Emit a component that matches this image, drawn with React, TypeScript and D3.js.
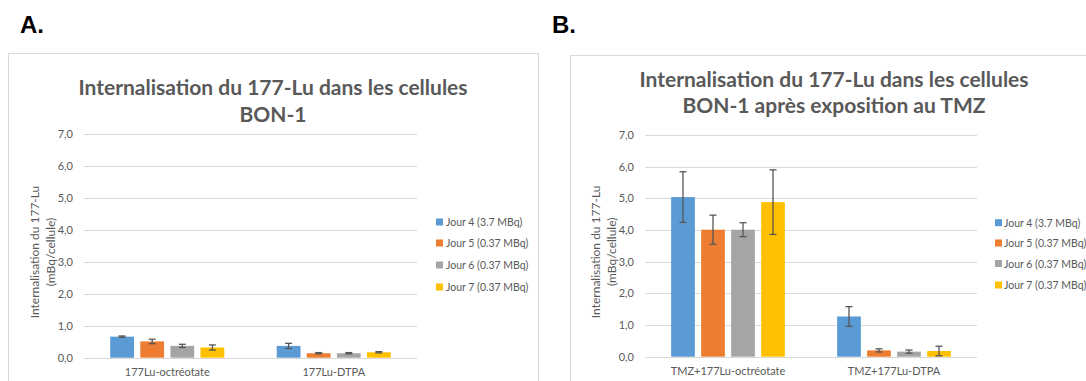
import React from "react";
import * as d3 from "d3";

const seriesNames = ["Jour 4 (3.7 MBq)", "Jour 5 (0.37 MBq)", "Jour 6 (0.37 MBq)", "Jour 7 (0.37 MBq)"];
const seriesColors = ["#5B9BD5", "#ED7D31", "#A5A5A5", "#FFC000"];
const yTicks = [0, 1, 2, 3, 4, 5, 6, 7];

const categoriesA = ["177Lu-octréotate", "177Lu-DTPA"];
const valuesA = [
  [0.66, 0.37],
  [0.51, 0.14],
  [0.37, 0.14],
  [0.32, 0.17],
];
const errorsA = [
  [0.02, 0.08],
  [0.07, 0.02],
  [0.05, 0.02],
  [0.08, 0.02],
];

const categoriesB = ["TMZ+177Lu-octréotate", "TMZ+177Lu-DTPA"];
const valuesB = [
  [5.04, 1.27],
  [4.01, 0.2],
  [4.01, 0.16],
  [4.88, 0.18],
];
const errorsB = [
  [0.8, 0.31],
  [0.46, 0.05],
  [0.22, 0.05],
  [1.02, 0.15],
];

const titleA = ["Internalisation du 177-Lu dans les cellules", "BON-1"];
const titleB = ["Internalisation du 177-Lu dans les cellules", "BON-1 après exposition au TMZ"];
const yLabel = ["Internalisation du 177-Lu", "(mBq/cellule)"];

const FONT = "Lato, 'Open Sans', sans-serif";
const TXT = "#595959";

type PanelProps = {
  letter: string;
  letterX: number;
  box: { x: number; y: number };
  plot: { x0: number; x1: number; yTop: number; yZero: number };
  titleLines: string[];
  titleCx: number;
  titleY: number[];
  ylabX: number[];
  legend: { sq: number; tx: number; rows: number[] };
  categories: string[];
  values: number[][];
  errors: number[][];
};

function Panel(p: PanelProps) {
  const y = d3.scaleLinear().domain([0, 7]).range([p.plot.yZero, p.plot.yTop]);
  const xCat = d3.scaleBand<string>().domain(p.categories).range([p.plot.x0, p.plot.x1]).padding(0);
  const groupW = xCat.bandwidth() * 0.685;
  const xSer = d3
    .scaleBand<number>()
    .domain(d3.range(seriesNames.length))
    .range([0, groupW])
    .paddingInner(0.21)
    .paddingOuter(0);
  const fmt = (v: number) => d3.format(".1f")(v).replace(".", ",");
  const ylabCy = (p.plot.yTop + p.plot.yZero) / 2 + 6;
  return (
    <g>
      <text x={p.letterX} y={33} fontFamily="'Liberation Sans', Arial, sans-serif" fontWeight="bold" fontSize={24} fill="#000">
        {p.letter}
      </text>
      <rect x={p.box.x + 0.5} y={p.box.y + 0.5} width={530} height={400} fill="#fff" stroke="#d9d9d9" />
      {p.titleLines.map((t, i) => (
        <text key={i} x={p.titleCx} y={p.titleY[i]} textAnchor="middle" fontFamily={FONT} fontWeight="bold" fontSize={21} fill={TXT}>
          {t}
        </text>
      ))}
      {yTicks.map((t) => (
        <g key={t}>
          <line x1={p.plot.x0} x2={p.plot.x1} y1={Math.round(y(t)) + 0.5} y2={Math.round(y(t)) + 0.5} stroke="#d9d9d9" strokeWidth={1} />
          <text x={p.plot.x0 - 11} y={y(t) + 4} textAnchor="end" fontFamily={FONT} fontSize={11} fill={TXT}>
            {fmt(t)}
          </text>
        </g>
      ))}
      {p.categories.map((c, ci) => {
        const gx = (xCat(c) as number) + (xCat.bandwidth() - groupW) / 2;
        return (
          <g key={c}>
            {seriesNames.map((s, si) => {
              const v = p.values[si][ci];
              const e = p.errors[si][ci];
              const bx = gx + (xSer(si) as number);
              const bw = xSer.bandwidth();
              const cx = bx + bw / 2;
              return (
                <g key={s}>
                  <rect x={bx} y={y(v)} width={bw} height={y(0) - y(v)} fill={seriesColors[si]} />
                  <line x1={cx} x2={cx} y1={y(v + e)} y2={y(v - e)} stroke="#555" strokeWidth={1.3} />
                  <line x1={cx - 3.5} x2={cx + 3.5} y1={y(v + e)} y2={y(v + e)} stroke="#555" strokeWidth={1.3} />
                  <line x1={cx - 3.5} x2={cx + 3.5} y1={y(v - e)} y2={y(v - e)} stroke="#555" strokeWidth={1.3} />
                </g>
              );
            })}
            <text x={(xCat(c) as number) + xCat.bandwidth() / 2} y={p.plot.yZero + 18} textAnchor="middle" fontFamily={FONT} fontSize={11} fill={TXT}>
              {c}
            </text>
          </g>
        );
      })}
      {yLabel.map((t, i) => (
        <text
          key={i}
          transform={`translate(${p.ylabX[i]},${ylabCy}) rotate(-90)`}
          textAnchor="middle"
          dominantBaseline="central"
          fontFamily={FONT}
          fontSize={12}
          fill={TXT}
        >
          {t}
        </text>
      ))}
      {seriesNames.map((s, si) => (
        <g key={s}>
          <rect x={p.legend.sq} y={p.legend.rows[si] - 3.5} width={7} height={7} fill={seriesColors[si]} />
          <text x={p.legend.tx} y={p.legend.rows[si] + 4} fontFamily={FONT} fontSize={10.5} fill={TXT}>
            {s}
          </text>
        </g>
      ))}
    </g>
  );
}

export default function App() {
  return (
    <svg width={1086} height={381} style={{ position: "absolute", left: 0, top: 0, background: "#fff" }}>
      <rect x={0} y={0} width={1086} height={381} fill="#fff" />
      <Panel
        letter="A."
        letterX={20}
        box={{ x: 8, y: 53 }}
        plot={{ x0: 84, x1: 417, yTop: 134.3, yZero: 357.7 }}
        titleLines={titleA}
        titleCx={273}
        titleY={[95, 122]}
        ylabX={[34, 50]}
        legend={{ sq: 436, tx: 446, rows: [222, 243, 265, 287] }}
        categories={categoriesA}
        values={valuesA}
        errors={errorsA}
      />
      <Panel
        letter="B."
        letterX={552}
        box={{ x: 570, y: 55 }}
        plot={{ x0: 645, x1: 977, yTop: 135, yZero: 356.7 }}
        titleLines={titleB}
        titleCx={834}
        titleY={[87, 113]}
        ylabX={[595, 611]}
        legend={{ sq: 995, tx: 1004, rows: [222.7, 243, 263.5, 285] }}
        categories={categoriesB}
        values={valuesB}
        errors={errorsB}
      />
    </svg>
  );
}
